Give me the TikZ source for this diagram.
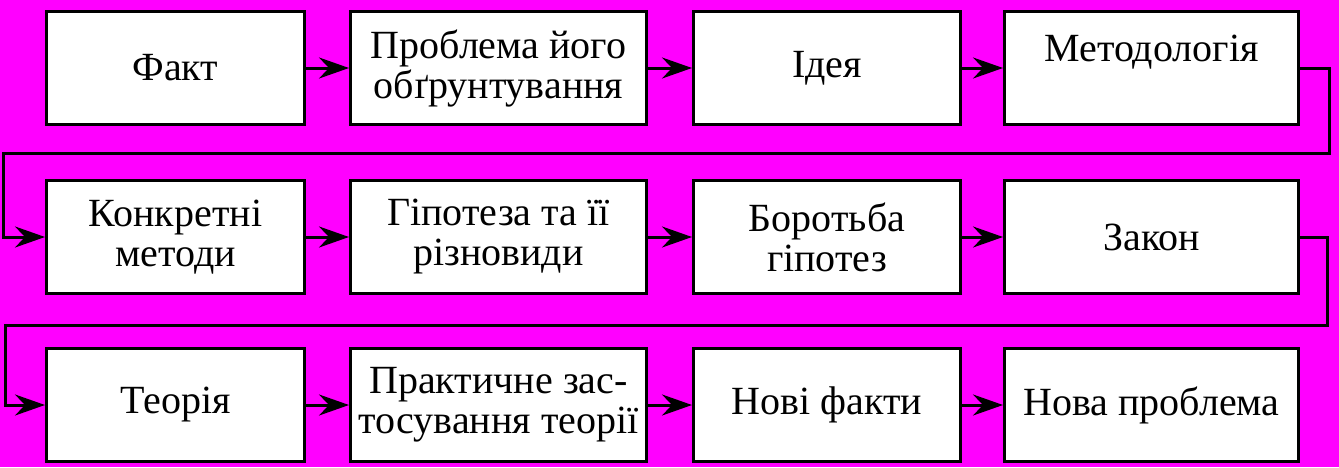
\documentclass[tikz,border=0pt]{standalone}
\usepackage{fontspec}
\newfontfamily\diagfont{Liberation Serif}
\usetikzlibrary{arrows.meta}
\definecolor{bgmagenta}{RGB}{255,0,255}

\begin{document}
\begin{tikzpicture}[x=0.5pt, y=-0.5pt,
    box/.style={draw, fill=white, line width=1.5pt, minimum height=56.5pt,
      inner sep=0pt, align=center, font=\diagfont\fontsize{20}{20}\selectfont},
    flow/.style={line width=1.5pt, -{Stealth[length=15pt, width=10.5pt, inset=5pt]}}]
    % Background
    \fill[bgmagenta] (0,0) rectangle (1339,467);
    \useasboundingbox (0,0) rectangle (1339,467);

    % First row
    \node[box, minimum width=129pt] (fact) at (175.5,68) {Факт};
    \node[box, minimum width=148pt] (problem) at (498.5,68) {Проблема його\\обґрунтування};
    \node[box, minimum width=133.5pt] (idea) at (827,68) {Ідея};
    \node[box, minimum width=147pt] (method) at (1151.5,68) {Методологія\\\mbox{}};

    % Second row
    \node[box, minimum width=129pt] (concrete) at (175.5,237) {Конкретні\\методи};
    \node[box, minimum width=148pt] (hypo) at (498.5,237) {Гіпотеза та її\\різновиди};
    \node[box, minimum width=133.5pt] (struggle) at (827,237) {Боротьба\\гіпотез};
    \node[box, minimum width=147pt] (law) at (1151.5,237) {Закон};

    % Third row
    \node[box, minimum width=129pt] (theory) at (175.5,405) {Теорія};
    \node[box, minimum width=148pt] (practice) at (498.5,405) {Практичне зас-\\тосування теорії};
    \node[box, minimum width=133.5pt] (newfacts) at (827,405) {Нові факти};
    \node[box, minimum width=147pt] (newproblem) at (1151.5,405) {Нова проблема};

    % Arrows along the rows
    \draw[flow] (fact) -- (problem);
    \draw[flow] (problem) -- (idea);
    \draw[flow] (idea) -- (method);
    \draw[flow] (concrete) -- (hypo);
    \draw[flow] (hypo) -- (struggle);
    \draw[flow] (struggle) -- (law);
    \draw[flow] (theory) -- (practice);
    \draw[flow] (practice) -- (newfacts);
    \draw[flow] (newfacts) -- (newproblem);

    % Returns to the next row
    \coordinate (turnA) at (1329.5,153);
    \coordinate (turnB) at (3.5,153);
    \coordinate (turnC) at (1327.5,325.5);
    \coordinate (turnD) at (5,325.5);
    \draw[flow] (method.east) -| (turnA) -- (turnB) |- (concrete.west);
    \draw[flow] (law.east) -| (turnC) -- (turnD) |- (theory.west);
\end{tikzpicture}
\end{document}
